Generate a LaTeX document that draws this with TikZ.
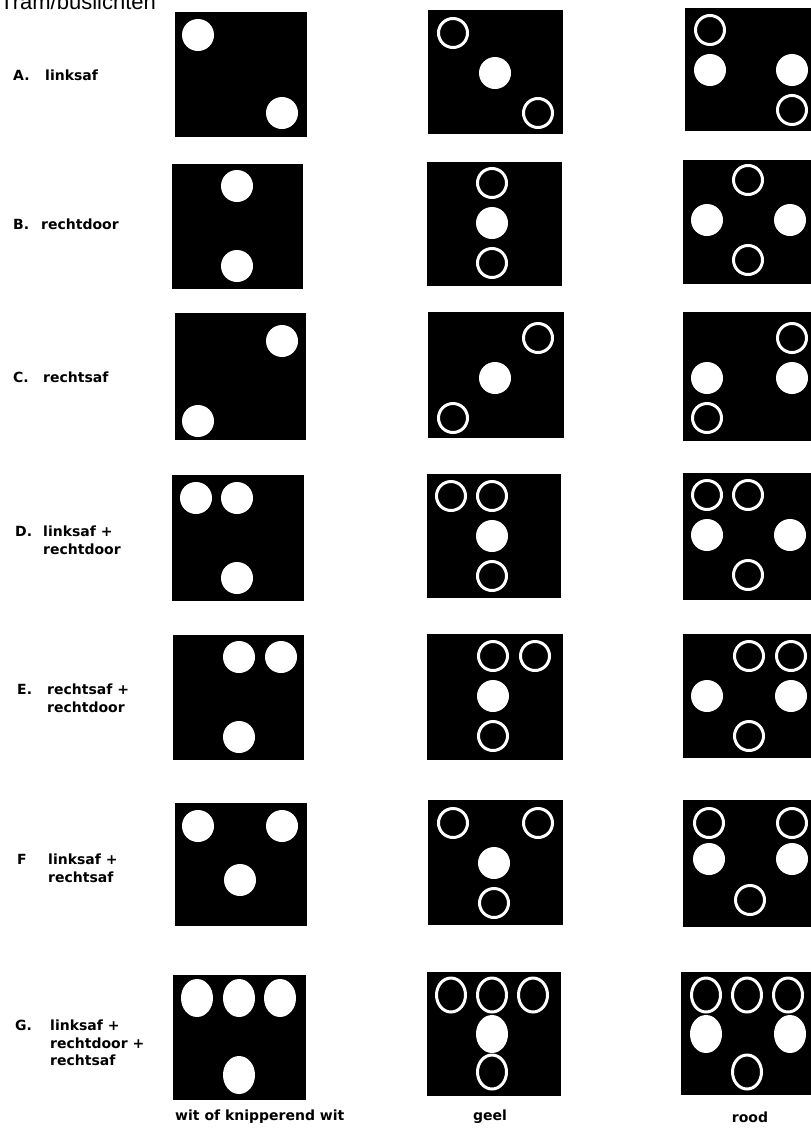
\documentclass[tikz,border=0pt]{standalone}
\usepackage{fontspec}
\setmainfont{DejaVu Sans}
\newfontfamily\titlefont{Liberation Sans}
\usepackage{tikz}

\begin{document}
\begin{tikzpicture}[x=1bp, y=-1bp,
    housing/.style={fill=black},
    lampon/.style={fill=white},
    lampoff/.style={draw=white, line width=3bp},
    letter/.style={anchor=north west, inner sep=0pt, font=\fontsize{14bp}{17.5bp}\selectfont\bfseries},
    caption/.style={anchor=north west, inner sep=0pt, align=left, font=\fontsize{14bp}{17.5bp}\selectfont\bfseries},
    colname/.style={inner sep=0pt, font=\fontsize{14bp}{17bp}\selectfont\bfseries}]
  \useasboundingbox (0,0) rectangle (811,1131);
  \clip (0,0) rectangle (811,1131);

  % Title (cut off at the top)
  \node[anchor=base west, inner sep=0pt, font=\titlefont\fontsize{22bp}{24bp}\selectfont] (title) at (0,9) {Tram/buslichten};

  % A. linksaf
  \node[letter] (la) at (13,70) {A.};
  \node[caption] (ta) at (45,70) {linksaf};
  \begin{scope}[shift={(175,12)}]
    \fill[housing] (0,0) rectangle (132,125);
    \fill[lampon] (23,23) circle (16bp);
    \fill[lampon] (107,101) circle (16bp);
  \end{scope}
  \begin{scope}[shift={(428,10)}]
    \fill[housing] (0,0) rectangle (135,124);
    \draw[lampoff] (25,23) circle (14.5bp);
    \fill[lampon] (67,63) circle (16bp);
    \draw[lampoff] (110,103) circle (14.5bp);
  \end{scope}
  \begin{scope}[shift={(685,8)}]
    \fill[housing] (0,0) rectangle (135,123);
    \draw[lampoff] (25,22) circle (14.5bp);
    \fill[lampon] (25,62) circle (16bp);
    \fill[lampon] (107,62) circle (16bp);
    \draw[lampoff] (107,102) circle (14.5bp);
  \end{scope}

  % B. rechtdoor
  \node[letter] (lb) at (13,219) {B.};
  \node[caption] (tb) at (41,219) {rechtdoor};
  \begin{scope}[shift={(172,164)}]
    \fill[housing] (0,0) rectangle (131,125);
    \fill[lampon] (65,22) circle (16bp);
    \fill[lampon] (65,102) circle (16bp);
  \end{scope}
  \begin{scope}[shift={(427,162)}]
    \fill[housing] (0,0) rectangle (135,124);
    \draw[lampoff] (65,21) circle (14.5bp);
    \fill[lampon] (65,61) circle (16bp);
    \draw[lampoff] (65,101) circle (14.5bp);
  \end{scope}
  \begin{scope}[shift={(683,160)}]
    \fill[housing] (0,0) rectangle (135,124);
    \draw[lampoff] (65,20) circle (14.5bp);
    \fill[lampon] (24,60) circle (16bp);
    \fill[lampon] (107,60) circle (16bp);
    \draw[lampoff] (65,100) circle (14.5bp);
  \end{scope}

  % C. rechtsaf
  \node[letter] (lc) at (13,372) {C.};
  \node[caption] (tc) at (43,372) {rechtsaf};
  \begin{scope}[shift={(175,313)}]
    \fill[housing] (0,0) rectangle (131,127);
    \fill[lampon] (107,28) circle (16bp);
    \fill[lampon] (23,108) circle (16bp);
  \end{scope}
  \begin{scope}[shift={(428,312)}]
    \fill[housing] (0,0) rectangle (136,126);
    \draw[lampoff] (110,26) circle (14.5bp);
    \fill[lampon] (67,66) circle (16bp);
    \draw[lampoff] (25,106) circle (14.5bp);
  \end{scope}
  \begin{scope}[shift={(683,312)}]
    \fill[housing] (0,0) rectangle (135,129);
    \draw[lampoff] (109,26) circle (14.5bp);
    \fill[lampon] (24,66) circle (16bp);
    \fill[lampon] (109,66) circle (16bp);
    \draw[lampoff] (24,106) circle (14.5bp);
  \end{scope}

  % D. linksaf + rechtdoor
  \node[letter] (ld) at (15,526) {D.};
  \node[caption] (td) at (43,526) {linksaf +\\rechtdoor};
  \begin{scope}[shift={(172,475)}]
    \fill[housing] (0,0) rectangle (132,126);
    \fill[lampon] (24,23) circle (16bp);
    \fill[lampon] (65,23) circle (16bp);
    \fill[lampon] (65,103) circle (16bp);
  \end{scope}
  \begin{scope}[shift={(427,474)}]
    \fill[housing] (0,0) rectangle (134,124);
    \draw[lampoff] (24,22) circle (14.5bp);
    \draw[lampoff] (65,22) circle (14.5bp);
    \fill[lampon] (65,62) circle (16bp);
    \draw[lampoff] (65,102) circle (14.5bp);
  \end{scope}
  \begin{scope}[shift={(683,473)}]
    \fill[housing] (0,0) rectangle (135,127);
    \draw[lampoff] (24,22) circle (14.5bp);
    \draw[lampoff] (65,22) circle (14.5bp);
    \fill[lampon] (24,62) circle (16bp);
    \fill[lampon] (107,62) circle (16bp);
    \draw[lampoff] (65,102) circle (14.5bp);
  \end{scope}

  % E. rechtsaf + rechtdoor
  \node[letter] (le) at (17,684) {E.};
  \node[caption] (te) at (47,684) {rechtsaf +\\rechtdoor};
  \begin{scope}[shift={(173,635)}]
    \fill[housing] (0,0) rectangle (131,125);
    \fill[lampon] (66,22) circle (16bp);
    \fill[lampon] (108,22) circle (16bp);
    \fill[lampon] (66,102) circle (16bp);
  \end{scope}
  \begin{scope}[shift={(427,634)}]
    \fill[housing] (0,0) rectangle (136,126);
    \draw[lampoff] (66,22) circle (14.5bp);
    \draw[lampoff] (108,22) circle (14.5bp);
    \fill[lampon] (66,62) circle (16bp);
    \draw[lampoff] (66,102) circle (14.5bp);
  \end{scope}
  \begin{scope}[shift={(683,634)}]
    \fill[housing] (0,0) rectangle (135,124);
    \draw[lampoff] (66,22) circle (14.5bp);
    \draw[lampoff] (108,22) circle (14.5bp);
    \fill[lampon] (24,62) circle (16bp);
    \fill[lampon] (108,62) circle (16bp);
    \draw[lampoff] (66,102) circle (14.5bp);
  \end{scope}

  % F linksaf + rechtsaf
  \node[letter] (lf) at (17,854) {F};
  \node[caption] (tf) at (48,854) {linksaf +\\rechtsaf};
  \begin{scope}[shift={(175,803)}]
    \fill[housing] (0,0) rectangle (132,123);
    \fill[lampon] (23,23) circle (16bp);
    \fill[lampon] (107,23) circle (16bp);
    \fill[lampon] (65,77) circle (16bp);
  \end{scope}
  \begin{scope}[shift={(428,800)}]
    \fill[housing] (0,0) rectangle (135,125);
    \draw[lampoff] (25,23) circle (14.5bp);
    \draw[lampoff] (110,23) circle (14.5bp);
    \fill[lampon] (66,63) circle (16bp);
    \draw[lampoff] (66,103) circle (14.5bp);
  \end{scope}
  \begin{scope}[shift={(683,800)}]
    \fill[housing] (0,0) rectangle (135,127);
    \draw[lampoff] (26,23) circle (14.5bp);
    \draw[lampoff] (109,23) circle (14.5bp);
    \fill[lampon] (26,59) circle (16bp);
    \fill[lampon] (109,59) circle (16bp);
    \draw[lampoff] (67,100) circle (14.5bp);
  \end{scope}

  % G. linksaf + rechtdoor + rechtsaf
  \node[letter] (lg) at (15,1020) {G.};
  \node[caption] (tg) at (50,1020) {linksaf +\\rechtdoor +\\rechtsaf};
  \begin{scope}[shift={(173,975)}]
    \fill[housing] (0,0) rectangle (133,125);
    \fill[lampon] (24,23) ellipse (16bp and 19bp);
    \fill[lampon] (66,23) ellipse (16bp and 19bp);
    \fill[lampon] (107,23) ellipse (16bp and 19bp);
    \fill[lampon] (66,100) ellipse (16bp and 19bp);
  \end{scope}
  \begin{scope}[shift={(427,972)}]
    \fill[housing] (0,0) rectangle (134,124);
    \draw[lampoff] (24,23) ellipse (14.5bp and 17bp);
    \draw[lampoff] (65,23) ellipse (14.5bp and 17bp);
    \draw[lampoff] (106,23) ellipse (14.5bp and 17bp);
    \fill[lampon] (65,62) ellipse (16bp and 19bp);
    \draw[lampoff] (65,100) ellipse (14.5bp and 17bp);
  \end{scope}
  \begin{scope}[shift={(681,972)}]
    \fill[housing] (0,0) rectangle (135,123);
    \draw[lampoff] (25,23) ellipse (14.5bp and 17bp);
    \draw[lampoff] (66,23) ellipse (14.5bp and 17bp);
    \draw[lampoff] (107,23) ellipse (14.5bp and 17bp);
    \fill[lampon] (25,62) ellipse (16bp and 19bp);
    \fill[lampon] (109,62) ellipse (16bp and 19bp);
    \draw[lampoff] (66,100) ellipse (14.5bp and 17bp);
  \end{scope}

  % Column captions
  \node[colname, anchor=west] (cwhite) at (175,1117) {wit of knipperend wit};
  \node[colname] (cyellow) at (490,1117) {geel};
  \node[colname] (cred) at (750,1117) {rood};
\end{tikzpicture}
\end{document}
